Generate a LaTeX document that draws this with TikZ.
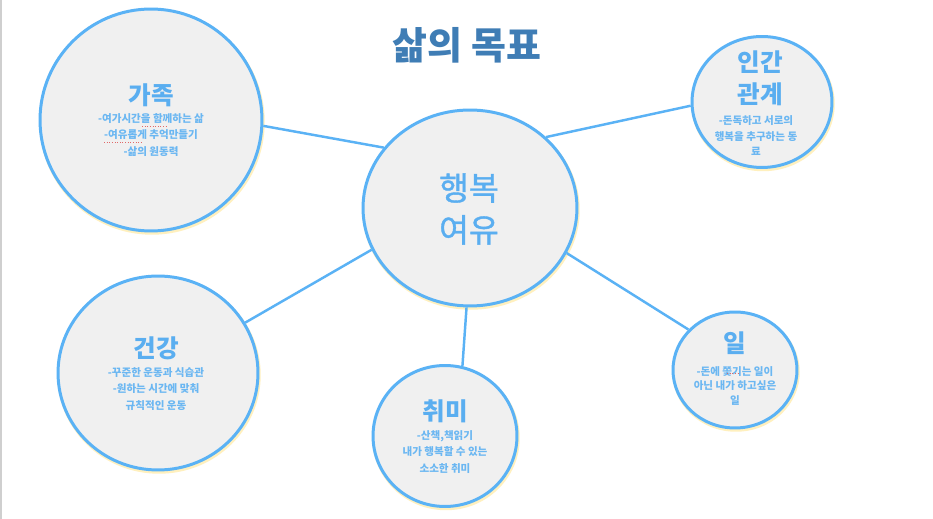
\documentclass[tikz,border=0pt]{standalone}
\usepackage{fontspec}
\setmainfont{Noto Sans CJK KR}
\newfontfamily\midweight[FakeBold=1.2]{Noto Sans CJK KR}
\usetikzlibrary{shapes.geometric}
\definecolor{ringcol}{HTML}{5AB2F5}
\definecolor{fillcol}{HTML}{F0F0F0}
\definecolor{titlecol}{HTML}{3F7DB5}
\definecolor{headcol}{HTML}{5AAEF0}
\definecolor{bodycol}{HTML}{6BB7F2}
\definecolor{halocol}{HTML}{FFF0BE}
\definecolor{edgegray}{HTML}{CFCFCF}
\definecolor{squig}{HTML}{E06A6A}
\tikzset{
  bubble/.style={ellipse, draw=ringcol, fill=fillcol, line width=1.7pt, inner sep=0pt},
  halo/.style={draw=halocol, line width=2pt},
  link/.style={draw=ringcol, line width=1.4pt},
  headtext/.style={text=headcol, font=\bfseries\fontsize{14}{18}\selectfont, align=center, inner sep=0pt},
  bodytext/.style={text=bodycol, font=\bfseries\fontsize{6}{9.2}\selectfont, align=center, inner sep=0pt},
  spell/.style={draw=squig, line width=0.5pt, densely dotted}
}
\begin{document}
\begin{tikzpicture}[x=0.02cm,y=-0.02cm]
\useasboundingbox[fill=white] (0,0) rectangle (933,519);
\fill[edgegray] (0,0) rectangle (2,519);

% halos
\path[halo] (152,122) ellipse [x radius=2.22cm, y radius=2.22cm];
\path[halo] (471,210) ellipse [x radius=2.14cm, y radius=1.96cm];
\path[halo] (763,104) ellipse [x radius=1.40cm, y radius=1.31cm];
\path[halo] (159,375) ellipse [x radius=2.00cm, y radius=1.94cm];
\path[halo] (446,438) ellipse [x radius=1.44cm, y radius=1.41cm];
\path[halo] (736,372) ellipse [x radius=1.24cm, y radius=1.16cm];

% bubbles
\node[bubble, minimum width=4.44cm, minimum height=4.44cm] (fam) at (151,120) {};
\node[bubble, minimum width=4.28cm, minimum height=3.92cm] (ctr) at (470,208) {};
\node[bubble, minimum width=2.80cm, minimum height=2.62cm] (rel) at (762,102) {};
\node[bubble, minimum width=4.00cm, minimum height=3.88cm] (hea) at (158,373) {};
\node[bubble, minimum width=2.88cm, minimum height=2.82cm] (hob) at (445,436) {};
\node[bubble, minimum width=2.48cm, minimum height=2.32cm] (wrk) at (735,370) {};

% connectors
\draw[link] (fam.-3) -- (ctr.145);
\draw[link] (ctr.43) -- (rel.183);
\draw[link] (ctr.203) -- (hea.30);
\draw[link] (ctr.268) -- (hob.76);
\draw[link] (ctr.-25) -- (wrk.139);

% title
\node[text=titlecol, font=\bfseries\fontsize{21.6}{26}\selectfont, inner sep=0pt] (title) at (467,45) {삶의 목표};

% centre
\node[text=headcol, font=\midweight\fontsize{18.5}{23.8}\selectfont, align=center, inner sep=0pt] (ctrT) at (469,209) {행복\\여유};

% family
\node[headtext] (famT) at (151,95) {가족};
\node[bodytext, font=\bfseries\fontsize{6}{9.6}\selectfont] (famB) at (151,135) {-여가시간을 함께하는 삶\\-여유롭게 추억만들기\\-삶의 원동력};

% relations
\node[headtext] (relT) at (760,78) {인간\\관계};
\node[bodytext, font=\bfseries\fontsize{6}{8.8}\selectfont] (relB) at (756,136) {-돈독하고 서로의\\행복을 추구하는 동\\료};

% health
\node[headtext] (heaT) at (156,348) {건강};
\node[bodytext] (heaB) at (156,389) {-꾸준한 운동과 식습관\\-원하는 시간에 맞춰\\규칙적인 운동};

% hobby
\node[headtext] (hobT) at (445,411) {취미};
\node[bodytext] (hobB) at (445,452) {-산책,책읽기\\내가 행복할 수 있는\\소소한 취미};

% work
\node[headtext] (wrkT) at (735,343) {일};
\node[bodytext, font=\bfseries\fontsize{6}{8}\selectfont] (wrkB) at (735,386) {-돈에 쫓기는 일이\\아닌 내가 하고싶은\\일};

% spell-check marks
\draw[spell] (142,126) -- (166,126);
\draw[spell] (104,142) -- (141,142);
\draw[spell] (727,373) -- (740,373);
\end{tikzpicture}
\end{document}
